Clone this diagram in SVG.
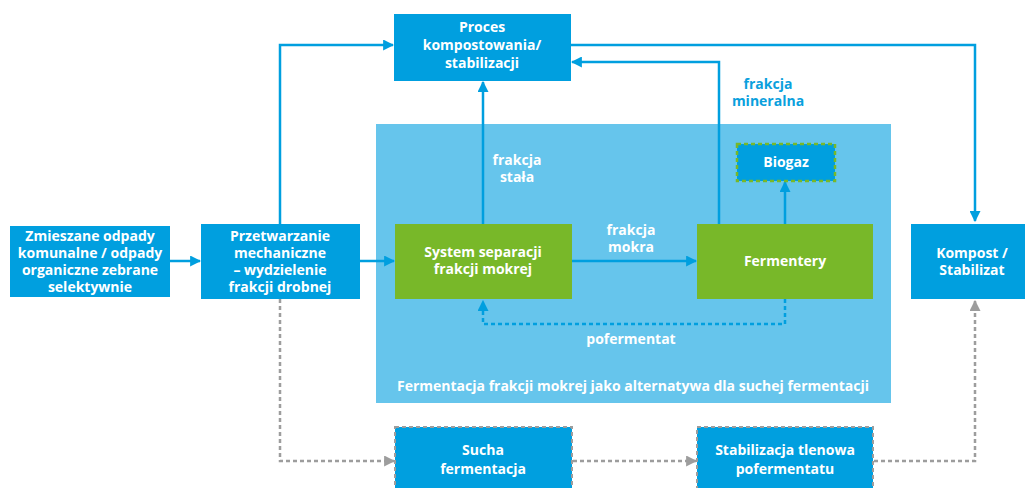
<svg xmlns="http://www.w3.org/2000/svg" width="1025" height="488" viewBox="0 0 1025 488">
<defs>
<style>
.box{fill:#009fdf}
.gbox{fill:#78b829}
.t{font-family:"Open Sans","Liberation Sans",sans-serif;font-weight:700;font-size:14px;fill:#fff;text-anchor:middle}
.lb{fill:#0aa0dd}
.c{fill:none;stroke:#009fdf;stroke-width:2.5}
.cd{fill:none;stroke:#009fdf;stroke-width:2.5;stroke-dasharray:4 3}
.gd{fill:none;stroke:#9d9d9d;stroke-width:2.5;stroke-dasharray:4 3}
</style>
<marker id="ab" viewBox="0 0 10 10" refX="9" refY="5" markerWidth="4.4" markerHeight="4.4" orient="auto" markerUnits="strokeWidth"><path d="M0,0L10,5L0,10z" fill="#009fdf"/></marker>
<marker id="ag" viewBox="0 0 10 10" refX="9" refY="5" markerWidth="4.4" markerHeight="4.4" orient="auto" markerUnits="strokeWidth"><path d="M0,0L10,5L0,10z" fill="#9d9d9d"/></marker>
</defs>
<rect id="region" x="376" y="124" width="515" height="279" fill="#66c5ec"/>
<g id="connectors">
<path class="c" d="M280,224V45H393" marker-end="url(#ab)"/>
<path class="c" d="M571,45H975V221" marker-end="url(#ab)"/>
<path class="c" d="M719,224V62H572" marker-end="url(#ab)"/>
<path class="c" d="M483,224V82" marker-end="url(#ab)"/>
<path class="c" d="M170,261H200" marker-end="url(#ab)"/>
<path class="c" d="M360,261H394" marker-end="url(#ab)"/>
<path class="c" d="M572,261H696" marker-end="url(#ab)"/>
<path class="c" d="M785,224V182" marker-end="url(#ab)"/>
<path class="cd" d="M785,299V324H483V301" marker-end="url(#ab)"/>
<path class="gd" d="M280,299V461H394" marker-end="url(#ag)"/>
<path class="gd" d="M573,461H696" marker-end="url(#ag)"/>
<path class="gd" d="M874,461H975V301" marker-end="url(#ag)"/>
</g>
<g id="proces"><rect class="box" x="394" y="14" width="177" height="67"/>
<text class="t" x="482" y="32">Proces</text><text class="t" x="482" y="50">kompostowania/</text><text class="t" x="482" y="68">stabilizacji</text></g>
<g id="zmieszane"><rect class="box" x="10" y="226" width="160" height="71"/>
<text class="t" x="90" y="241">Zmieszane odpady</text><text class="t" x="90" y="258">komunalne / odpady</text><text class="t" x="90" y="275">organiczne zebrane</text><text class="t" x="90" y="292">selektywnie</text></g>
<g id="przetwarzanie"><rect class="box" x="201" y="224" width="159" height="75"/>
<text class="t" x="280" y="241">Przetwarzanie</text><text class="t" x="280" y="258">mechaniczne</text><text class="t" x="280" y="275">– wydzielenie</text><text class="t" x="280" y="292">frakcji drobnej</text></g>
<g id="system"><rect class="gbox" x="395" y="224" width="177" height="75"/>
<text class="t" x="483" y="257">System separacji</text><text class="t" x="483" y="274">frakcji mokrej</text></g>
<g id="fermentery"><rect class="gbox" x="697" y="224" width="176" height="75"/>
<text class="t" x="785" y="266">Fermentery</text></g>
<g id="biogaz"><rect class="box" x="737" y="144" width="98" height="37" stroke="#78b829" stroke-width="2.5" stroke-dasharray="4 3"/>
<text class="t" x="786" y="167">Biogaz</text></g>
<g id="kompost"><rect class="box" x="911" y="224" width="114" height="75"/>
<text class="t" x="972" y="258">Kompost /</text><text class="t" x="972" y="275">Stabilizat</text></g>
<g id="sucha"><rect class="box" x="395" y="427" width="177" height="62" stroke="#9d9d9d" stroke-width="2" stroke-dasharray="4 3"/>
<text class="t" x="483" y="455">Sucha</text><text class="t" x="483" y="474">fermentacja</text></g>
<g id="stabilizacja"><rect class="box" x="697" y="427" width="176" height="62" stroke="#9d9d9d" stroke-width="2" stroke-dasharray="4 3"/>
<text class="t" x="785" y="455">Stabilizacja tlenowa</text><text class="t" x="785" y="474">pofermentatu</text></g>
<g id="labels">
<text class="t" x="517" y="165">frakcja</text><text class="t" x="517" y="182">stała</text>
<text class="t" x="631" y="235">frakcja</text><text class="t" x="631" y="252">mokra</text>
<text class="t" x="631" y="344">pofermentat</text>
<text class="t lb" x="768" y="89">frakcja</text><text class="t lb" x="768" y="106">mineralna</text>
<text class="t" x="633" y="391">Fermentacja frakcji mokrej jako alternatywa dla suchej fermentacji</text>
</g>
</svg>
